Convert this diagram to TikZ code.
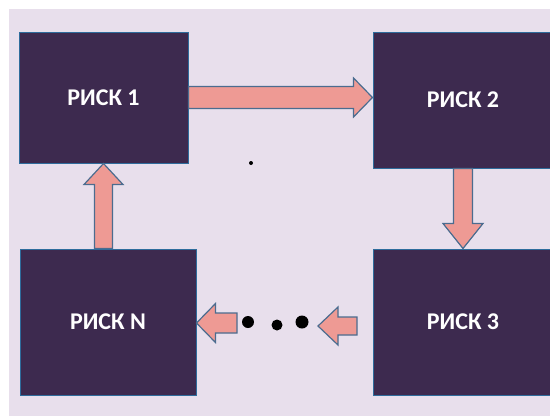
\documentclass[tikz,border=0pt]{standalone}
\usepackage{fontspec}
\setmainfont{Carlito}
\usetikzlibrary{calc,positioning}

\definecolor{bgpurple}{HTML}{E8DFEC}
\definecolor{boxpurple}{HTML}{3D2A4F}
\definecolor{boxedge}{HTML}{2E6C9C}
\definecolor{arrowfill}{HTML}{EE9A94}
\definecolor{arrowedge}{HTML}{4B6C8F}

\begin{document}
\begin{tikzpicture}[x=1pt, y=-1pt,
  riskbox/.style={rectangle, draw=boxedge, fill=boxpurple, line width=1pt,
    text=white, font=\bfseries\fontsize{24}{28}\selectfont},
  blockarrow/.style n args={3}{draw=arrowedge, fill=arrowfill, line width=1.2pt,
    to path={($(\tikztostart)!#1!90:(\tikztotarget)$)
      -- ($(\tikztotarget)!#3!(\tikztostart)!#1!90:(\tikztotarget)$)
      -- ($(\tikztotarget)!#3!(\tikztostart)!#2!90:(\tikztotarget)$)
      -- (\tikztotarget)
      -- ($(\tikztotarget)!#3!(\tikztostart)!#2!-90:(\tikztotarget)$)
      -- ($(\tikztotarget)!#3!(\tikztostart)!#1!-90:(\tikztotarget)$)
      -- ($(\tikztostart)!#1!-90:(\tikztotarget)$) -- cycle}},
  blackdot/.style={circle, fill=black, inner sep=0pt}]
\useasboundingbox (0,0) rectangle (550,416);
\clip (0,0) rectangle (550,416);
\fill[white] (0,0) rectangle (550,416);
\fill[bgpurple] (9,9) rectangle (550,416);

% risk boxes
\node[riskbox, minimum width=169pt, minimum height=131pt] (r1) at (103.5,97.5) {РИСК 1};
\node[riskbox, minimum width=180pt, minimum height=136pt] (r2) at (463,100) {РИСК 2};
\node[riskbox, minimum width=176pt, minimum height=146pt] (rN) at (108,322) {РИСК N};
\node[riskbox, minimum width=180pt, minimum height=146pt] (r3) at (463,322) {РИСК 3};

% dots
\node[blackdot, minimum size=4pt] (sd) at (251,163) {};
\node[blackdot, minimum size=12pt] (d1) at (248,322) {};
\node[blackdot, minimum size=11pt] (d2) at (277,325) {};
\node[blackdot, minimum size=13pt] (d3) at (302,322) {};
\coordinate (lstart) at (237,323);
\coordinate (rstart) at (357,326);
\coordinate (rtip) at (318,326);

% block arrows
\draw[blockarrow={11pt}{19.5pt}{19pt}] (r1.east) to (r1.east -| r2.west);
\draw[blockarrow={9.5pt}{20pt}{25pt}] (r2.south) to (r2.south |- r3.north);
\draw[blockarrow={9pt}{19.5pt}{21pt}] (rN.north -| r1.south) to (r1.south);
\draw[blockarrow={10pt}{19.5pt}{19pt}] (lstart) to (rN.east |- lstart);
\draw[blockarrow={9pt}{19pt}{20pt}] (rstart) to (rtip);
\end{tikzpicture}
\end{document}
